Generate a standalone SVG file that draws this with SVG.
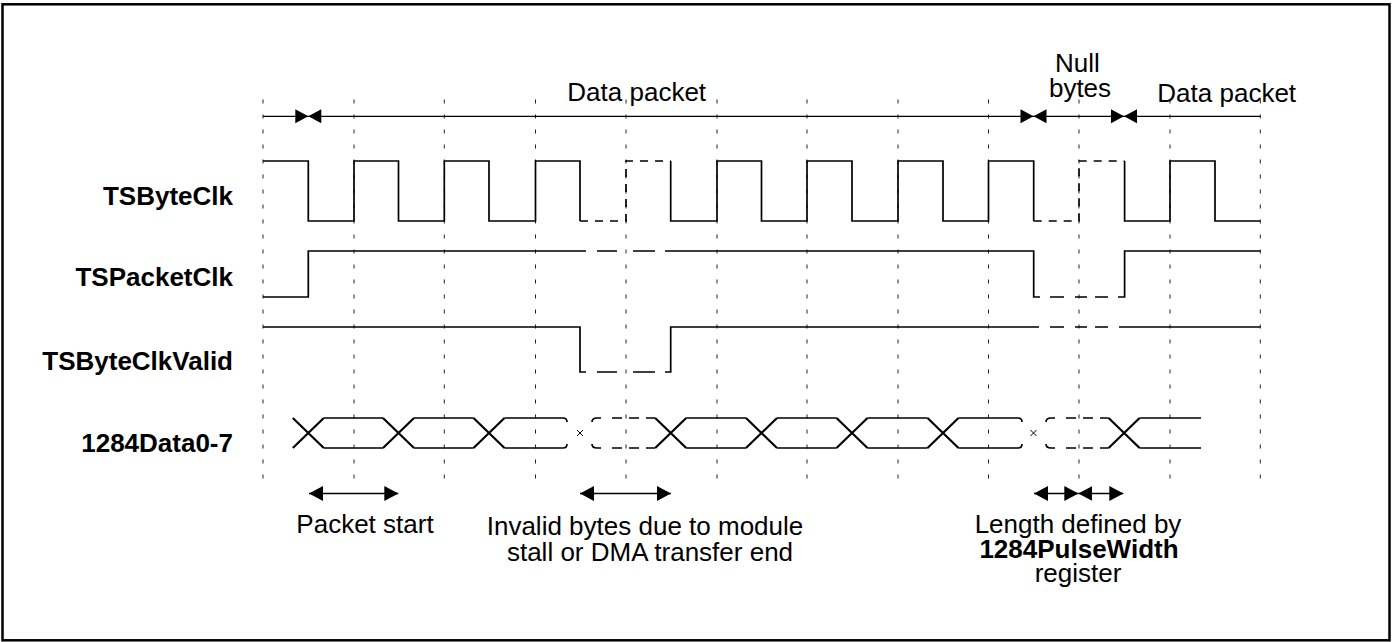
<svg xmlns="http://www.w3.org/2000/svg" width="1392" height="642" viewBox="0 0 1392 642">
<style>
.t{font-family:"Liberation Sans",Arial,sans-serif;font-size:26px;fill:#000}
.b{font-weight:bold}
.m{text-anchor:middle}
.e{text-anchor:end}
.grid{stroke:#222;stroke-width:1;stroke-dasharray:4 11;fill:none}
.w{stroke:#000;stroke-width:1.7;fill:none}
.d{stroke:#000;stroke-width:1.7;fill:none;stroke-dasharray:8 7}
.de{stroke:#000;stroke-width:1.5;fill:none;stroke-dasharray:10 7}
.x{stroke:#000;stroke-width:2.2;fill:none}
.ar{stroke:#000;stroke-width:1.5;fill:none}
</style>
<defs>
<marker id="ah" markerUnits="userSpaceOnUse" markerWidth="14" markerHeight="15" refX="14" refY="7.5" orient="auto-start-reverse" viewBox="0 0 14 15">
<path d="M0,0 L14,7.5 L0,15 z" fill="#000"/>
</marker>
<g id="bowtie"><path d="M-13,-7 L0,0 L-13,7 z M13,-7 L0,0 L13,7 z" fill="#000"/></g>
</defs>
<rect x="2.5" y="4.3" width="1387" height="636" fill="#fff" stroke="#000" stroke-width="2.5"/>

<g id="grid">
<line class="grid" x1="263" y1="99.5" x2="263" y2="479"/>
<line class="grid" x1="354" y1="99.5" x2="354" y2="479"/>
<line class="grid" x1="444.3" y1="99.5" x2="444.3" y2="479"/>
<line class="grid" x1="535.5" y1="99.5" x2="535.5" y2="479"/>
<line class="grid" x1="626" y1="99.5" x2="626" y2="479"/>
<line class="grid" x1="717" y1="99.5" x2="717" y2="479"/>
<line class="grid" x1="807" y1="99.5" x2="807" y2="479"/>
<line class="grid" x1="898" y1="99.5" x2="898" y2="479"/>
<line class="grid" x1="988.5" y1="99.5" x2="988.5" y2="479"/>
<line class="grid" x1="1079" y1="99.5" x2="1079" y2="479"/>
<line class="grid" x1="1170" y1="99.5" x2="1170" y2="479"/>
<line class="grid" x1="1260.3" y1="99.5" x2="1260.3" y2="479"/>
</g>

<g id="top-scale">
<line x1="263" y1="116.3" x2="1260.3" y2="116.3" stroke="#000" stroke-width="1.2"/>
<use href="#bowtie" x="308.3" y="116.3"/>
<use href="#bowtie" x="1033.5" y="116.3"/>
<use href="#bowtie" x="1124" y="116.3"/>
<text class="t m" x="636.7" y="101">Data packet</text>
<text class="t m" x="1077.5" y="72">Null</text>
<text class="t m" x="1080" y="97">bytes</text>
<text class="t m" x="1226.7" y="102">Data packet</text>
</g>

<g id="TSByteClk">
<text class="t b e" x="233" y="205">TSByteClk</text>
<path class="w" d="M263,161 H308.3 V221 H354 V161 H398.5 V221 H444.3 V161 H489 V221 H535.5 V161 H580 V221"/>
<path class="d" d="M580,221 H626 V161 H670.7"/>
<path class="w" d="M670.7,161 V221 H717 V161 H761.5 V221 H807 V161 H852 V221 H898 V161 H943 V221 H988.5 V161 H1033.7 V221"/>
<path class="d" d="M1033.7,221 H1079 V161 H1124.6"/>
<path class="w" d="M1124.6,161 V221 H1170 V161 H1215 V221 H1260.3"/>
</g>

<g id="TSPacketClk">
<text class="t b e" x="233" y="286">TSPacketClk</text>
<path class="w" d="M263,297 H308.3 V251 H586"/>
<path class="w" d="M597,251 H617 M633,251 H655"/>
<path class="w" d="M665,251 H1033.7 V297 H1040"/>
<path class="w" d="M1050,297 H1064 M1075,297 H1087 M1095,297 H1108"/>
<path class="w" d="M1118,297 H1124.6 V251 H1260.3"/>
</g>

<g id="TSByteClkValid">
<text class="t b e" x="233" y="370">TSByteClkValid</text>
<path class="w" d="M263,327 H580 V372 H586"/>
<path class="w" d="M597,372 H617 M633,372 H655"/>
<path class="w" d="M665,372 H670.7 V327 H1039"/>
<path class="w" d="M1050,327 H1064 M1075,327 H1087 M1095,327 H1108"/>
<path class="w" d="M1119,327 H1260.3"/>
</g>

<g id="Data">
<text class="t b e" x="233" y="452">1284Data0-7</text>
<path class="x" d="M292.8,418 L323.8,448 M292.8,448 L323.8,418"/>
<path class="x" d="M383,418 L414,448 M383,448 L414,418"/>
<path class="x" d="M473.5,418 L504.5,448 M473.5,448 L504.5,418"/>
<path class="x" d="M655.2,418 L686.2,448 M655.2,448 L686.2,418"/>
<path class="x" d="M746,418 L777,448 M746,448 L777,418"/>
<path class="x" d="M836.5,418 L867.5,448 M836.5,448 L867.5,418"/>
<path class="x" d="M927.5,418 L958.5,448 M927.5,448 L958.5,418"/>
<path class="x" d="M1108.6,418 L1139.6,448 M1108.6,448 L1139.6,418"/>
<path class="w" d="M323.8,418 H383 M323.8,448 H383 M414,418 H473.5 M414,448 H473.5"/>
<path class="w" d="M504.5,418 H563 Q567,418 567,422 M504.5,448 H563 Q567,448 567,444"/>
<path class="w" d="M686.2,418 H746 M686.2,448 H746 M777,418 H836.5 M777,448 H836.5 M867.5,418 H927.5 M867.5,448 H927.5"/>
<path class="w" d="M958.5,418 H1018 Q1022,418 1022,422 M958.5,448 H1018 Q1022,448 1022,444"/>
<path class="w" d="M1139.6,418 H1201 M1139.6,448 H1201"/>
<path class="w" d="M592,422 Q592,418 597,418 H601 M592,444 Q592,448 597,448 H601"/>
<path class="de" d="M612,418 H655.2 M612,448 H655.2"/>
<path class="w" d="M1046,422 Q1046,418 1051,418 H1055 M1046,444 Q1046,448 1051,448 H1055"/>
<path class="de" d="M1066,418 H1108.6 M1066,448 H1108.6"/>
<path stroke="#000" stroke-width="1" d="M577,430 L583,436 M577,436 L583,430 M1030.5,430 L1036.5,436 M1030.5,436 L1036.5,430"/>
</g>

<g id="bottom-annotations">
<line class="ar" x1="309" y1="493.5" x2="398.3" y2="493.5" marker-start="url(#ah)" marker-end="url(#ah)"/>
<line class="ar" x1="580" y1="493.5" x2="671" y2="493.5" marker-start="url(#ah)" marker-end="url(#ah)"/>
<line class="ar" x1="1034" y1="493.5" x2="1078.3" y2="493.5" marker-start="url(#ah)" marker-end="url(#ah)"/>
<line class="ar" x1="1078.3" y1="493.5" x2="1123.3" y2="493.5" marker-start="url(#ah)" marker-end="url(#ah)"/>
<text class="t m" x="365" y="533">Packet start</text>
<text class="t m" x="645" y="535">Invalid bytes due to module</text>
<text class="t m" x="650" y="561">stall or DMA transfer end</text>
<text class="t m" x="1078" y="533">Length defined by</text>
<text class="t b m" x="1079" y="558">1284PulseWidth</text>
<text class="t m" x="1078" y="582">register</text>
</g>
</svg>
